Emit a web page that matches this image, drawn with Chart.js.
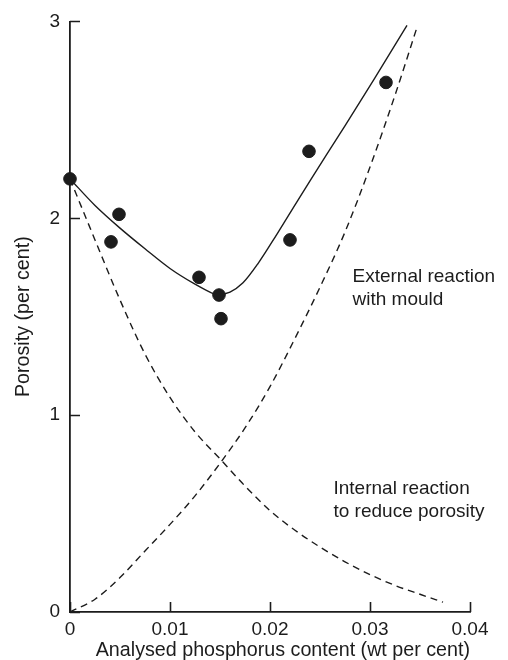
<!DOCTYPE html>
<html>
<head>
<meta charset="utf-8">
<script src="https://cdn.jsdelivr.net/npm/chart.js@4/dist/chart.umd.min.js"></script>
<style>
  html, body { margin: 0; padding: 0; background: #fff; }
  #wrap { width: 508px; height: 660px; }
</style>
</head>
<body>
<div id="wrap"><canvas id="myChart" width="508" height="660"></canvas></div>
<script>
// measured points
const pointX = [0, 0.0041, 0.0049, 0.0129, 0.0149, 0.0151, 0.0220, 0.0239, 0.0316];
const pointY = [2.20, 1.88, 2.02, 1.70, 1.61, 1.49, 1.89, 2.34, 2.69];

// solid fitted curve
const fitX = [0, 0.0025, 0.005, 0.0075, 0.010, 0.0125, 0.0135, 0.0148, 0.016, 0.0173, 0.0188, 0.0207, 0.024, 0.027, 0.0304, 0.0337];
const fitY = [2.20, 2.065, 1.95, 1.845, 1.745, 1.665, 1.638, 1.612, 1.625, 1.672, 1.77, 1.92, 2.19, 2.43, 2.705, 2.98];

// dashed: external reaction with mould (rising)
const externalX = [0, 0.0025, 0.005, 0.0075, 0.010, 0.0125, 0.015, 0.0175, 0.020, 0.0225, 0.025, 0.0275, 0.030, 0.0325, 0.0347];
const externalY = [0, 0.065, 0.175, 0.31, 0.445, 0.59, 0.755, 0.935, 1.145, 1.39, 1.65, 1.93, 2.26, 2.625, 2.97];

// dashed: internal reaction to reduce porosity (falling)
const internalX = [0, 0.0025, 0.005, 0.0075, 0.010, 0.0125, 0.015, 0.0175, 0.020, 0.0225, 0.025, 0.0275, 0.030, 0.0325, 0.035, 0.0373];
const internalY = [2.20, 1.89, 1.585, 1.31, 1.09, 0.915, 0.778, 0.64, 0.515, 0.415, 0.33, 0.255, 0.19, 0.135, 0.09, 0.05];

const xTicks = [0, 0.01, 0.02, 0.03, 0.04];
const yTicks = [0, 1, 2, 3];

const ink = '#1c1c1c';
const fontFamily = '"Liberation Sans", Arial, Helvetica, sans-serif';

const toXY = (xs, ys) => xs.map((x, i) => ({ x: x, y: ys[i] }));

// inward tick marks + text notes
const extras = {
    id: 'extras',
    afterDraw(chart) {
        const { ctx, scales: { x, y }, chartArea } = chart;
        ctx.save();
        ctx.strokeStyle = ink;
        ctx.lineWidth = 1.6;
        ctx.beginPath();
        xTicks.forEach(v => {
            const px = Math.round(x.getPixelForValue(v)) + 0.5;
            ctx.moveTo(px, chartArea.bottom);
            ctx.lineTo(px, chartArea.bottom - 10);
        });
        yTicks.forEach(v => {
            const py = Math.round(y.getPixelForValue(v)) + 0.5;
            ctx.moveTo(chartArea.left, py);
            ctx.lineTo(chartArea.left + 10, py);
        });
        ctx.stroke();

        ctx.fillStyle = ink;
        ctx.font = '19px ' + fontFamily;
        ctx.textBaseline = 'alphabetic';
        ctx.textAlign = 'left';
        const ex = x.getPixelForValue(0.02825);
        ctx.fillText('External reaction', ex, y.getPixelForValue(1.676));
        ctx.fillText('with mould', ex, y.getPixelForValue(1.560));
        const ix = x.getPixelForValue(0.02635);
        ctx.fillText('Internal reaction', ix, y.getPixelForValue(0.600));
        ctx.fillText('to reduce porosity', ix, y.getPixelForValue(0.484));
        ctx.restore();
    }
};

new Chart(document.getElementById('myChart'), {
    type: 'scatter',
    data: {
        datasets: [{
            label: 'Measured',
            data: toXY(pointX, pointY),
            backgroundColor: ink,
            borderColor: ink,
            pointRadius: 6.3,
            showLine: false,
            clip: false
        }, {
            label: 'Fit',
            data: toXY(fitX, fitY),
            showLine: true,
            borderColor: ink,
            borderWidth: 1.4,
            pointRadius: 0,
            cubicInterpolationMode: 'monotone'
        }, {
            label: 'External reaction with mould',
            data: toXY(externalX, externalY),
            showLine: true,
            borderColor: ink,
            borderWidth: 1.4,
            borderDash: [7, 5],
            pointRadius: 0,
            cubicInterpolationMode: 'monotone'
        }, {
            label: 'Internal reaction to reduce porosity',
            data: toXY(internalX, internalY),
            showLine: true,
            borderColor: ink,
            borderWidth: 1.4,
            borderDash: [7, 5],
            pointRadius: 0,
            cubicInterpolationMode: 'monotone'
        }]
    },
    options: {
        responsive: false,
        animation: false,
        layout: { padding: { top: 17, right: 38, left: 0, bottom: 0 } },
        plugins: {
            legend: { display: false },
            tooltip: { enabled: false }
        },
        scales: {
            x: {
                type: 'linear',
                min: 0,
                max: 0.04,
                afterFit: s => { s.height = 48; },
                afterBuildTicks: s => { s.ticks = xTicks.map(v => ({ value: v })); },
                grid: { display: false, drawTicks: false },
                border: { display: true, color: ink, width: 1.8 },
                ticks: {
                    color: ink,
                    padding: 6,
                    font: { family: fontFamily, size: 19 },
                    callback: v => String(v)
                },
                title: {
                    display: true,
                    align: 'end',
                    text: 'Analysed phosphorus content (wt per cent)',
                    color: ink,
                    font: { family: fontFamily, size: 19.7 },
                    padding: { top: 0, bottom: -2 }
                }
            },
            y: {
                type: 'linear',
                min: 0,
                max: 3,
                afterFit: s => { s.width = 70; },
                afterBuildTicks: s => { s.ticks = yTicks.map(v => ({ value: v })); },
                grid: { display: false, drawTicks: false },
                border: { display: true, color: ink, width: 1.8 },
                ticks: {
                    color: ink,
                    padding: 10,
                    font: { family: fontFamily, size: 19 },
                    callback: v => String(v)
                },
                title: {
                    display: true,
                    text: 'Porosity (per cent)',
                    color: ink,
                    font: { family: fontFamily, size: 19.7 },
                    padding: { top: 12, bottom: 0 }
                }
            }
        }
    },
    plugins: [extras]
});
</script>
</body>
</html>
